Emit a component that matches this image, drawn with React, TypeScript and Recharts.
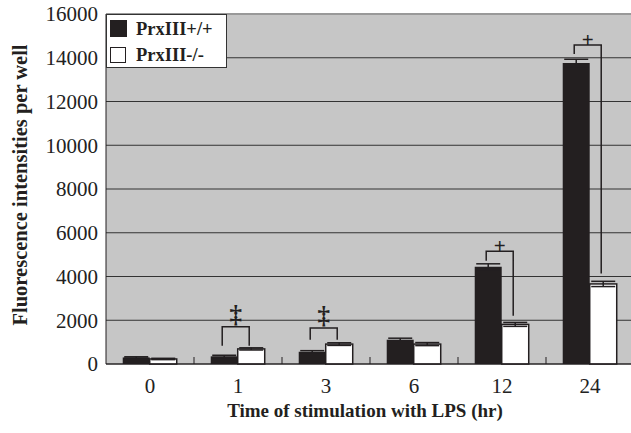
import React from 'react';
import { BarChart, Bar, XAxis, YAxis, CartesianGrid, ErrorBar, Legend, ReferenceLine } from 'recharts';

// values
const times = ['0', '1', '3', '6', '12', '24'];
const wildType = [300, 350, 560, 1110, 4450, 13760];
const wildTypeErr = [30, 50, 50, 70, 130, 170];
const knockout = [230, 690, 910, 910, 1810, 3660];
const knockoutErr = [30, 50, 60, 70, 90, 120];

// significance brackets: top level, left arm end, right arm end, mark
const bracketTop = [null, 1700, 1650, null, 5150, 14580];
const bracketLeftEnd = [null, 840, 1110, null, 4720, 14170];
const bracketRightEnd = [null, 840, 1110, null, 2210, 4140];
const bracketMark = ['', '‡', '‡', '', '+', '+'];

const yTicks = [0, 2000, 4000, 6000, 8000, 10000, 12000, 14000, 16000];

const data = times.map((t, i) => ({
  time: t,
  wildType: wildType[i],
  wildTypeErr: wildTypeErr[i],
  knockout: knockout[i],
  knockoutErr: knockoutErr[i],
  top: bracketTop[i],
  leftEnd: bracketLeftEnd[i],
  rightEnd: bracketRightEnd[i],
  mark: bracketMark[i],
}));

const INK = '#231f20';
const FONT = '"Liberation Serif", "DejaVu Serif", serif';
const HALF_BAND = 44;

const KnockoutShape = (props: any) => {
  const { x, y, width, height, payload } = props;
  const zeroY = y + height;
  const perUnit = height / payload.knockout;
  const toY = (v: number) => zeroY - v * perUnit;
  const lx = x - width / 2 - 2;
  const rx = x + width / 2 - 2;
  const dagger = payload.mark === '‡';
  return (
    <g>
      <rect x={x} y={y} width={width} height={height} fill="#fff" stroke={INK} strokeWidth={1.5} />
      {payload.top != null && (
        <g>
          <path
            d={`M${lx},${toY(payload.leftEnd)} V${toY(payload.top)} H${rx} V${toY(payload.rightEnd)}`}
            fill="none"
            stroke={INK}
            strokeWidth={1.5}
          />
          <text
            x={(lx + rx) / 2}
            y={dagger ? toY(payload.top) - 4 : toY(payload.top) + 2}
            textAnchor="middle"
            fontFamily={FONT}
            fontWeight="bold"
            fontSize={dagger ? 25 : 21}
            fill={INK}
          >
            {payload.mark}
          </text>
        </g>
      )}
    </g>
  );
};

const TimeTick = (props: any) => {
  const { x, y, index } = props;
  return (
    <g>
      {index > 0 && <line x1={x - HALF_BAND} x2={x - HALF_BAND} y1={364} y2={357} stroke={INK} strokeWidth={1} />}
      <text x={x} y={y + 21} textAnchor="middle" fontFamily={FONT} fontSize={21} fill="#222">
        {props.payload.value}
      </text>
    </g>
  );
};

const LegendBox = () => (
  <div
    style={{
      width: 119,
      height: 52,
      background: '#fff',
      border: '1px solid #333',
      position: 'relative',
      fontFamily: FONT,
      fontWeight: 'bold',
      fontSize: 18.5,
      color: INK,
    }}
  >
    <div style={{ position: 'absolute', left: 3, top: 5, width: 17, height: 17, background: INK }} />
    <div style={{ position: 'absolute', left: 29, top: 3, lineHeight: '22px' }}>PrxIII+/+</div>
    <div style={{ position: 'absolute', left: 3, top: 32, width: 14, height: 14, border: `1.5px solid ${INK}`, background: '#fff' }} />
    <div style={{ position: 'absolute', left: 29, top: 29, lineHeight: '22px' }}>PrxIII-/-</div>
  </div>
);

const App: React.FC = () => {
  return (
    <div style={{ position: 'absolute', left: 0, top: 0, width: 631, height: 433, overflow: 'hidden', background: '#fff' }}>
      <BarChart
        width={640}
        height={433}
        data={data}
        margin={{ top: 14, right: 6, bottom: 0, left: 0 }}
        barCategoryGap="19%"
        barGap={0}
      >
        <CartesianGrid vertical={false} fill="#c6c6c6" stroke="#333" strokeWidth={1} />
        <ReferenceLine y={16000} stroke="#999" strokeWidth={2} />
        <XAxis
          dataKey="time"
          height={69}
          stroke={INK}
          tickLine={false}
          tick={<TimeTick />}
          interval={0}
          label={{
            content: (p: any) => {
              const vb = p.viewBox;
              return (
                <text
                  x={vb.x + vb.width / 2 - 5}
                  y={417}
                  textAnchor="middle"
                  fontFamily={FONT}
                  fontWeight="bold"
                  fontSize={19}
                  fill={INK}
                >
                  Time of stimulation with LPS (hr)
                </text>
              );
            },
          }}
        />
        <YAxis
          width={106}
          domain={[0, 16000]}
          ticks={yTicks}
          interval={0}
          stroke={INK}
          tickLine={false}
          tick={{ fontFamily: FONT, fontSize: 21, fill: '#222' }}
          label={{
            content: (p: any) => {
              const vb = p.viewBox;
              const cy = vb.y + vb.height / 2 - 4;
              return (
                <text
                  x={27}
                  y={cy}
                  transform={`rotate(-90, 27, ${cy})`}
                  textAnchor="middle"
                  fontFamily={FONT}
                  fontWeight="bold"
                  fontSize={20.5}
                  fill={INK}
                >
                  Fluorescence intensities per well
                </text>
              );
            },
          }}
        />
        <Legend
          layout="vertical"
          align="center"
          verticalAlign="middle"
          content={<LegendBox />}
          wrapperStyle={{ left: 106, top: 14, width: 121, height: 54 }}
        />
        <Bar dataKey="wildType" fill={INK} isAnimationActive={false}>
          <ErrorBar dataKey="wildTypeErr" width={12} stroke={INK} strokeWidth={1.5} />
        </Bar>
        <Bar dataKey="knockout" fill="#fff" shape={<KnockoutShape />} isAnimationActive={false}>
          <ErrorBar dataKey="knockoutErr" width={12} stroke={INK} strokeWidth={1.5} />
        </Bar>
      </BarChart>
    </div>
  );
};

export default App;
